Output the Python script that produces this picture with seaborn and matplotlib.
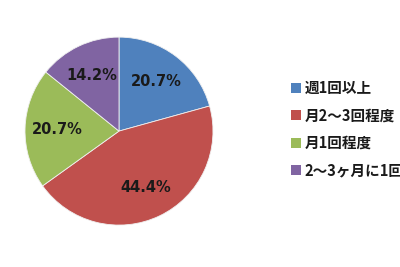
import matplotlib
matplotlib.use("Agg")
import matplotlib.pyplot as plt
import seaborn as sns
import numpy as np
from matplotlib.patches import Patch

categories = ["週1回以上", "月2～3回程度", "月1回程度", "2～3ヶ月に1回程度"]
values = [20.7, 44.4, 20.7, 14.2]
pct_labels = ["20.7%", "44.4%", "20.7%", "14.2%"]
colors = ["#4F81BD", "#C0504D", "#9BBB59", "#8064A2"]

sns.set_theme(style="white")
plt.rcParams['font.family'] = ['Noto Sans CJK JP', 'DejaVu Sans']

fig = plt.figure(figsize=(4, 2.67), dpi=100)
ax = fig.add_axes([0.0625, 0.157, 0.47, 0.704])
wedges, _ = ax.pie(values, colors=colors, startangle=90, counterclock=False,
                   wedgeprops=dict(edgecolor="#f0f0f0", linewidth=0.6))
for w, lab in zip(wedges, pct_labels):
    ang = np.deg2rad((w.theta1 + w.theta2) / 2)
    r = 0.66
    ax.text(r * np.cos(ang), r * np.sin(ang), lab, ha="center", va="center",
            fontsize=10.5, fontweight="bold", color="#1a1a1a", family="DejaVu Sans")
ax.set_aspect("equal")
ax.set_xlim(-1, 1)
ax.set_ylim(-1, 1)
ax.axis("off")

handles = [Patch(facecolor=c, edgecolor="none") for c in colors]
leg = fig.legend(handles, categories, loc="upper left", bbox_to_anchor=(0.728, 0.7),
                 frameon=False, fontsize=10.5, handlelength=0.65, handleheight=0.65,
                 handletextpad=0.25, labelspacing=0.78, borderpad=0, borderaxespad=0)
for t in leg.get_texts():
    t.set_fontweight("bold")
    t.set_color("#1a1a1a")

fig.savefig("out.png", dpi=100)
